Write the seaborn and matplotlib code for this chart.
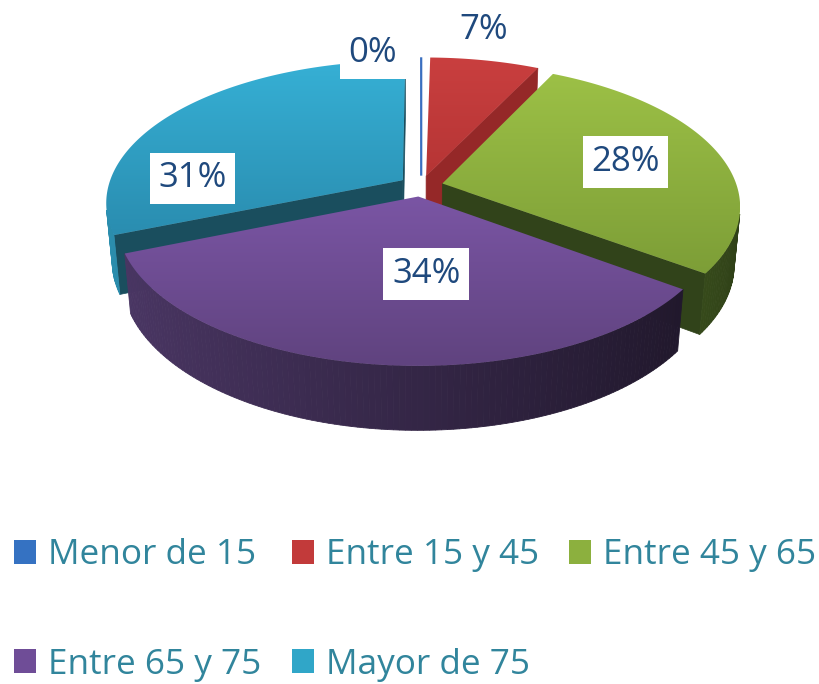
import numpy as np
import matplotlib
matplotlib.use("Agg")
import matplotlib.pyplot as plt
from matplotlib.patches import Polygon, Patch
from matplotlib.colors import to_rgb
import seaborn as sns

# datos
grupos = ['Menor de 15', 'Entre 15 y 45', 'Entre 45 y 65', 'Entre 65 y 75', 'Mayor de 75']
porcentajes = [0.3, 6.9, 27.7, 33.7, 31.0]
etiquetas = ['0%', '7%', '28%', '34%', '31%']

# colores (cara superior clara/oscura, pared, cara radial, leyenda)
top_claro = ['#4a86d4', '#c93f3f', '#9cc046', '#7a55a4', '#36b0d5']
top_oscuro = ['#2f5e9e', '#b63535', '#7d9e37', '#60437f', '#2a8db0']
pared = ['#2c5a9a', '#8e2626', '#55742a', '#342646', '#1e6379']
radial = ['#2c5a9a', '#952828', '#31431a', '#3b2a54', '#1a4e5e']
leyenda_col = ['#3572c2', '#c23a3a', '#8cb03e', '#6f4d97', '#30a6c8']

sns.set_theme(style="white")
plt.rcParams['font.family'] = ['Open Sans', 'DejaVu Sans']

# parametros de la vista 3D
cx, cy = 421, 186
S = 294.5
phi = np.radians(28.3)
D = 5.7
h = 0.225
explode = 0.075
cam = np.array([0, -D * np.cos(phi), D * np.sin(phi)])


def proj(X, Y, Z):
    X, Y, Z = np.asarray(X), np.asarray(Y), np.asarray(Z)
    v = Y * np.sin(phi) + Z * np.cos(phi)
    w = D + Y * np.cos(phi) - Z * np.sin(phi)
    s = S * D / w
    return cx + X * s, cy - v * s


def shade(c, k):
    return tuple(np.clip(np.array(to_rgb(c)) * k, 0, 1))


def visible(n, p):
    return np.dot(n, cam - p) > 0


fig = plt.figure(figsize=(8.2, 6.84), dpi=100)
ax = fig.add_axes([0, 0, 1, 1])
ax.set_xlim(0, 820)
ax.set_ylim(684, 0)
ax.axis('off')

vals = np.array(porcentajes, float)
frac = vals / vals.sum()
inicio = 90 - 360 * np.concatenate([[0], np.cumsum(frac)[:-1]])
fin = inicio - 360 * frac

# orden de dibujo: de atras hacia delante
orden = []
for i in range(len(vals)):
    lo, hi = np.radians(fin[i]), np.radians(inicio[i])
    m = (lo + hi) / 2
    ox, oy = explode * np.cos(m), explode * np.sin(m)
    cen = np.array([ox + 0.5 * np.cos(m), oy + 0.5 * np.sin(m), -h / 2])
    orden.append((np.linalg.norm(cam - cen), i, lo, hi, ox, oy))
orden.sort(reverse=True)

geo = {}
for rank, (_, i, lo, hi, ox, oy) in enumerate(orden):
    geo[i] = (lo, hi, ox, oy)
    z0 = 2 + rank * 0.1
    if frac[i] < 0.01:
        # porcion casi nula: una linea fina como en Excel
        px, py = proj([ox, ox + np.cos(hi)], [oy, oy + np.sin(hi)], [0, 0])
        ax.plot(px, py, color='#3a6fc0', lw=1.6, zorder=z0 + 0.05,
                solid_capstyle='butt')
        continue
    # caras radiales
    for ang, sg in [(lo, -1), (hi, 1)]:
        n = np.array([-sg * np.sin(ang), sg * np.cos(ang), 0])
        p = np.array([ox + 0.5 * np.cos(ang), oy + 0.5 * np.sin(ang), -h / 2])
        if visible(n, p):
            X = [ox, ox + np.cos(ang), ox + np.cos(ang), ox]
            Y = [oy, oy + np.sin(ang), oy + np.sin(ang), oy]
            Z = [0, 0, -h, -h]
            px, py = proj(X, Y, Z)
            ax.add_patch(Polygon(np.c_[px, py], closed=True, fc=radial[i],
                                 ec=radial[i], lw=0.5, zorder=z0))
    # pared exterior, mas clara a la izquierda
    nseg = max(2, int(np.degrees(hi - lo)) + 2)
    th = np.linspace(lo, hi, nseg)
    for a, b in zip(th[:-1], th[1:]):
        tm = (a + b) / 2
        n = np.array([np.cos(tm), np.sin(tm), 0])
        p = np.array([ox + np.cos(tm), oy + np.sin(tm), -h / 2])
        if not visible(n, p):
            continue
        X = ox + np.cos([a, b, b, a])
        Y = oy + np.sin([a, b, b, a])
        Z = [0, 0, -h, -h]
        px, py = proj(X, Y, Z)
        k = 1 + 0.45 * np.cos(tm - np.pi)
        col = shade(pared[i], k)
        ax.add_patch(Polygon(np.c_[px, py], closed=True, fc=col, ec=col,
                             lw=0.6, zorder=z0))
    # cara superior con degradado
    X = np.r_[ox, ox + np.cos(th)]
    Y = np.r_[oy, oy + np.sin(th)]
    px, py = proj(X, Y, np.zeros_like(X))
    poly = Polygon(np.c_[px, py], closed=True, fc='none', ec='none',
                   zorder=z0 + 0.05)
    ax.add_patch(poly)
    c1, c2 = np.array(to_rgb(top_claro[i])), np.array(to_rgb(top_oscuro[i]))
    t = np.linspace(0, 1, 64)[:, None, None]
    grad = c1 * (1 - t) + c2 * t
    im = ax.imshow(grad, extent=(px.min(), px.max(), py.max(), py.min()),
                   aspect='auto', origin='upper', zorder=z0 + 0.04,
                   interpolation='bilinear')
    im.set_clip_path(poly)

# etiquetas de datos
lab_r = [1.06, 1.3, 0.66, 0.5, 0.72]
lab_dm = [11, 3, 0, 10, 33]
for i, txt in enumerate(etiquetas):
    lo, hi, ox, oy = geo[i]
    m = (lo + hi) / 2 + np.radians(lab_dm[i])
    px, py = proj(ox + lab_r[i] * np.cos(m), oy + lab_r[i] * np.sin(m), 0)
    ax.text(px, py, txt, ha='center', va='center', fontsize=25, color='#1f497d',
            zorder=5, bbox=dict(boxstyle='square,pad=0.25', fc='white', ec='none'))

# leyenda (orden por filas)
handles = [Patch(facecolor=leyenda_col[i], edgecolor='none') for i in range(5)]
idx = [0, 3, 1, 4, 2]
leg = fig.legend([handles[i] for i in idx], [grupos[i] for i in idx],
                 loc='upper left', bbox_to_anchor=(14 / 820, 1 - 538 / 684),
                 ncol=3, frameon=False, fontsize=25.3, labelcolor='#31859c',
                 handlelength=0.63, handleheight=0.66, handletextpad=0.35,
                 columnspacing=0.85, labelspacing=2.15, borderpad=0,
                 borderaxespad=0)

fig.savefig('out.png', dpi=100)
